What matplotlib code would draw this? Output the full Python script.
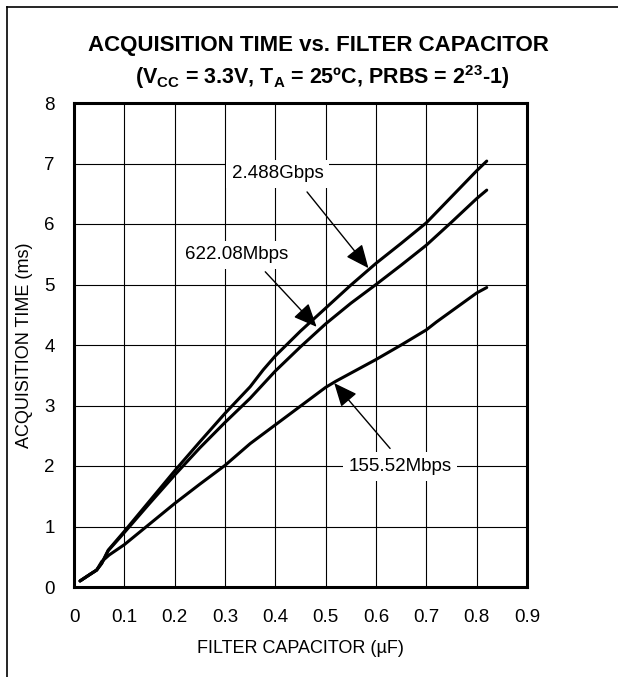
import matplotlib
matplotlib.use("Agg")
import matplotlib.pyplot as plt
from matplotlib.lines import Line2D
from matplotlib import font_manager

# curves
cap_gbps = [0.012, 0.032, 0.045, 0.055, 0.068, 0.1, 0.15, 0.2, 0.25, 0.3, 0.35, 0.376, 0.4, 0.45, 0.5, 0.55, 0.6, 0.65, 0.7, 0.75, 0.8, 0.82]
time_gbps = [0.10, 0.21, 0.28, 0.39, 0.61, 0.92, 1.42, 1.92, 2.40, 2.87, 3.31, 3.59, 3.82, 4.23, 4.61, 4.99, 5.35, 5.68, 6.02, 6.45, 6.88, 7.04]

cap_622 = [0.012, 0.032, 0.045, 0.055, 0.068, 0.1, 0.15, 0.2, 0.25, 0.3, 0.35, 0.4, 0.45, 0.5, 0.55, 0.6, 0.65, 0.7, 0.75, 0.8, 0.82]
time_622 = [0.10, 0.21, 0.28, 0.39, 0.60, 0.90, 1.38, 1.85, 2.30, 2.72, 3.12, 3.57, 3.97, 4.35, 4.69, 5.00, 5.32, 5.65, 6.03, 6.42, 6.56]

cap_155 = [0.012, 0.032, 0.045, 0.055, 0.07, 0.1, 0.15, 0.2, 0.25, 0.3, 0.35, 0.4, 0.45, 0.5, 0.52, 0.6, 0.65, 0.7, 0.72, 0.8, 0.82]
time_155 = [0.10, 0.21, 0.28, 0.42, 0.53, 0.70, 1.04, 1.38, 1.70, 2.01, 2.37, 2.68, 2.99, 3.30, 3.40, 3.76, 4.00, 4.25, 4.38, 4.86, 4.95]

labels = ["2.488Gbps", "622.08Mbps", "155.52Mbps"]
x_ticks = [0, 0.1, 0.2, 0.3, 0.4, 0.5, 0.6, 0.7, 0.8, 0.9]
x_ticklabels = ["0", "0.1", "0.2", "0.3", "0.4", "0.5", "0.6", "0.7", "0.8", "0.9"]
y_ticks = [0, 1, 2, 3, 4, 5, 6, 7, 8]

# label text spot, arrow tail, arrow tip (data coords)
label_pos = [(0.405, 6.83), (0.324, 5.49), (0.648, 1.99)]
arrow_tail = [(0.463, 6.53), (0.380, 5.21), (0.628, 2.29)]
arrow_tip = [(0.585, 5.27), (0.482, 4.30), (0.517, 3.37)]

names = {f.name for f in font_manager.fontManager.ttflist}
narrow = "Liberation Sans Narrow" if "Liberation Sans Narrow" in names else "Liberation Sans"
plt.rcParams["font.family"] = [narrow, "DejaVu Sans"]
plt.rcParams["mathtext.fontset"] = "custom"
plt.rcParams["mathtext.rm"] = narrow + ":bold"
plt.rcParams["mathtext.it"] = narrow + ":bold"
plt.rcParams["mathtext.bf"] = narrow + ":bold"

fig = plt.figure(figsize=(6.18, 6.77), dpi=100)
ax = fig.add_axes([74 / 618, 90 / 677, 453 / 618, 484 / 677])

for xs, ys in [(cap_gbps, time_gbps), (cap_622, time_622), (cap_155, time_155)]:
    ax.plot(xs, ys, color="black", lw=2.2, solid_capstyle="round", zorder=3)

ax.set_xlim(0, 0.9)
ax.set_ylim(0, 8)
ax.set_xticks(x_ticks)
ax.set_xticklabels(x_ticklabels)
ax.set_yticks(y_ticks)
ax.tick_params(length=0, labelsize=13.5, pad=16)
ax.tick_params(axis="y", pad=14)
ax.grid(True, color="black", lw=0.8)
ax.set_axisbelow(True)
for sp in ax.spines.values():
    sp.set_linewidth(2.2)

ax.set_xlabel("FILTER CAPACITOR (\u00b5F)", fontsize=13, labelpad=10)
ax.set_ylabel("ACQUISITION TIME (ms)", fontsize=13, labelpad=8)

for txt, pos, tail, tip in zip(labels, label_pos, arrow_tail, arrow_tip):
    ax.text(pos[0], pos[1], txt, fontsize=13.5, ha="center", va="center", zorder=4,
            bbox=dict(boxstyle="square,pad=0.3", fc="white", ec="none"))
    ax.annotate("", xy=tip, xytext=tail, zorder=5,
                arrowprops=dict(arrowstyle="-|>,head_length=0.8,head_width=0.35",
                                color="black", lw=1.0, mutation_scale=18,
                                shrinkA=0, shrinkB=0))

fig.text(318 / 618, 1 - 45 / 677, "ACQUISITION TIME vs. FILTER CAPACITOR",
         fontsize=16, fontweight="bold", ha="center", va="center")
fig.text(322 / 618, 1 - 77 / 677,
         r"(V$_{\mathrm{CC}}$ = 3.3V, T$_{\mathrm{A}}$ = 25ºC, PRBS = 2$^{\mathrm{23}}$-1)",
         fontsize=15.5, fontweight="bold", ha="center", va="center")

# outer frame (top and left edges only)
fig.add_artist(Line2D([7 / 618, 1], [1 - 7 / 677, 1 - 7 / 677], color="black", lw=1.2))
fig.add_artist(Line2D([7 / 618, 7 / 618], [0, 1 - 7 / 677], color="black", lw=1.2))

fig.savefig("out.png", dpi=100)
